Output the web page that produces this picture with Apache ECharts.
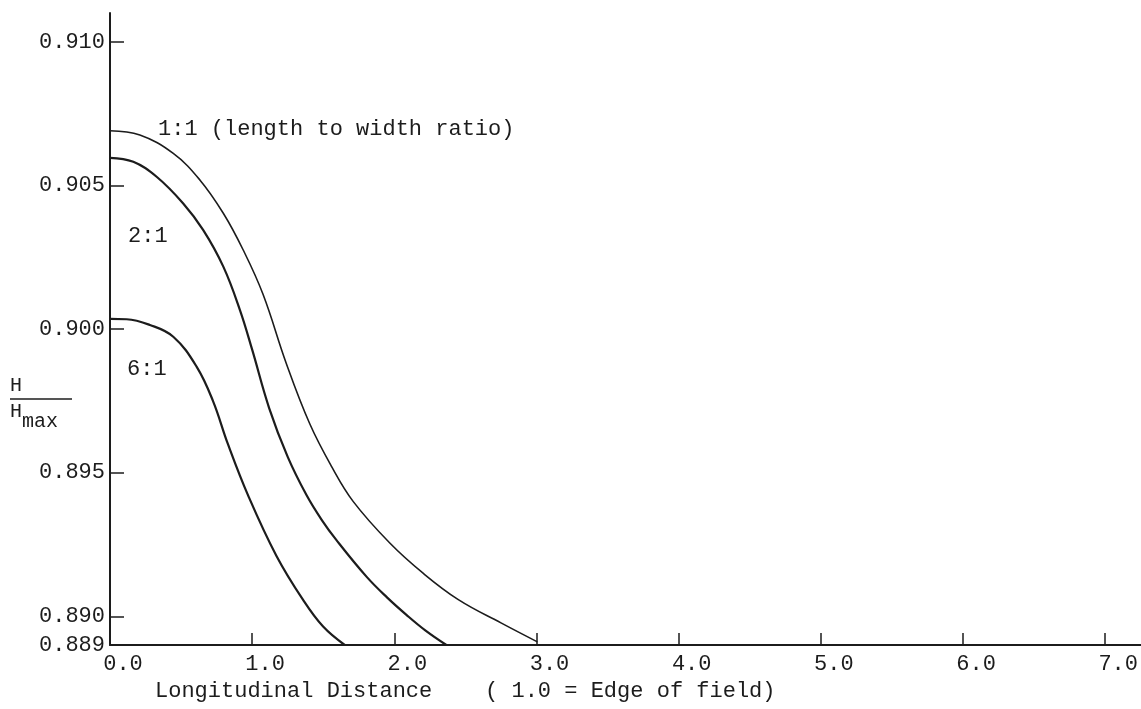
<!DOCTYPE html>
<html>
<head>
<meta charset="utf-8">
<script src="https://cdn.jsdelivr.net/npm/echarts@6/dist/echarts.min.js"></script>
<style>
  html, body { margin: 0; padding: 0; background: #fff; }
  #chart { width: 1141px; height: 709px; }
</style>
</head>
<body>
<div id="chart"></div>
<script>
// curves: [distance, H/Hmax]
const ratio1to1 = [
  [0.0, 0.9069], [0.21, 0.90675], [0.445, 0.90611], [0.632, 0.90519],
  [0.797, 0.90403], [0.937, 0.90275], [1.077, 0.9012], [1.24, 0.8988],
  [1.405, 0.8967], [1.56, 0.8952], [1.71, 0.8940], [1.968, 0.89255],
  [2.202, 0.8915], [2.45, 0.89058], [2.75, 0.88977], [3.006, 0.88911]
];
const ratio2to1 = [
  [0.0, 0.90596], [0.164, 0.90582], [0.328, 0.9053], [0.515, 0.90437],
  [0.656, 0.90344], [0.797, 0.90217], [0.914, 0.90066], [1.0, 0.89928],
  [1.12, 0.89724], [1.25, 0.89555], [1.382, 0.89422], [1.49, 0.89335],
  [1.593, 0.89265], [1.804, 0.89138], [1.95, 0.89065], [2.085, 0.89005],
  [2.22, 0.8895], [2.366, 0.889]
];
const ratio6to1 = [
  [0.0, 0.90035], [0.117, 0.90034], [0.281, 0.90014], [0.445, 0.89973],
  [0.609, 0.89869], [0.724, 0.8975], [0.829, 0.8960], [0.972, 0.8942],
  [1.171, 0.8921], [1.358, 0.89057], [1.499, 0.88964], [1.651, 0.889]
];
const yLabels = [0.889, 0.890, 0.895, 0.900, 0.905, 0.910];
const yTicks = [0.890, 0.895, 0.900, 0.905, 0.910];
const xLabels = [0, 1, 2, 3, 4, 5, 6, 7];
const xTicks = [1, 2, 3, 4, 5, 6, 7];

const font = 'Liberation Mono';
const ink = '#1c1c1c';
const chart = echarts.init(document.getElementById('chart'));

function curve(name, data, width) {
  return {
    name: name,
    type: 'line',
    data: data,
    smooth: 0.4,
    symbol: 'none',
    lineStyle: { color: ink, width: width },
    silent: true
  };
}

const option = {
  backgroundColor: '#fff',
  animation: false,
  title: {
    text: 'Longitudinal Distance    ( 1.0 = Edge of field)',
    left: 150,
    top: 675,
    textStyle: { fontFamily: font, fontSize: 22, fontWeight: 'normal', color: ink }
  },
  grid: { left: 110, right: 0, top: 13, bottom: 64 },
  xAxis: {
    type: 'value',
    min: 0,
    max: 7.25,
    splitLine: { show: false },
    axisLine: { lineStyle: { color: ink, width: 2 } },
    axisTick: { customValues: xTicks, inside: true, length: 12, lineStyle: { color: ink, width: 1.5 } },
    axisLabel: {
      customValues: xLabels,
      formatter: v => v.toFixed(1),
      fontFamily: font, fontSize: 22, color: ink,
      margin: 8,
      padding: [0, 0, 0, 26]
    }
  },
  yAxis: {
    type: 'value',
    min: 0.889,
    max: 0.911,
    splitLine: { show: false },
    axisLine: { lineStyle: { color: ink, width: 2 } },
    axisTick: { customValues: yTicks, inside: true, length: 14, lineStyle: { color: ink, width: 1.5 } },
    axisLabel: {
      customValues: yLabels,
      formatter: v => v.toFixed(3),
      fontFamily: font, fontSize: 22, color: ink,
      margin: 5
    }
  },
  graphic: [
    { type: 'text', left: 158, top: 118, style: { text: '1:1 (length to width ratio)', font: '22px "Liberation Mono"', fill: ink } },
    { type: 'text', left: 128, top: 225, style: { text: '2:1', font: '22px "Liberation Mono"', fill: ink } },
    { type: 'text', left: 127, top: 358, style: { text: '6:1', font: '22px "Liberation Mono"', fill: ink } },
    { type: 'text', left: 10, top: 376, style: { text: 'H', font: '20px "Liberation Mono"', fill: ink } },
    { type: 'line', shape: { x1: 10, y1: 399, x2: 72, y2: 399 }, style: { stroke: ink, lineWidth: 1.5 } },
    {
      type: 'text', left: 10, top: 402,
      style: {
        text: '{a|H}{b|max}',
        rich: {
          a: { fontFamily: font, fontSize: 20, fill: ink, verticalAlign: 'top' },
          b: { fontFamily: font, fontSize: 20, fill: ink, padding: [10, 0, 0, 0] }
        }
      }
    }
  ],
  series: [
    curve('1:1', ratio1to1, 1.6),
    curve('2:1', ratio2to1, 2.2),
    curve('6:1', ratio6to1, 2.2)
  ]
};
option && chart.setOption(option);
</script>
</body>
</html>
